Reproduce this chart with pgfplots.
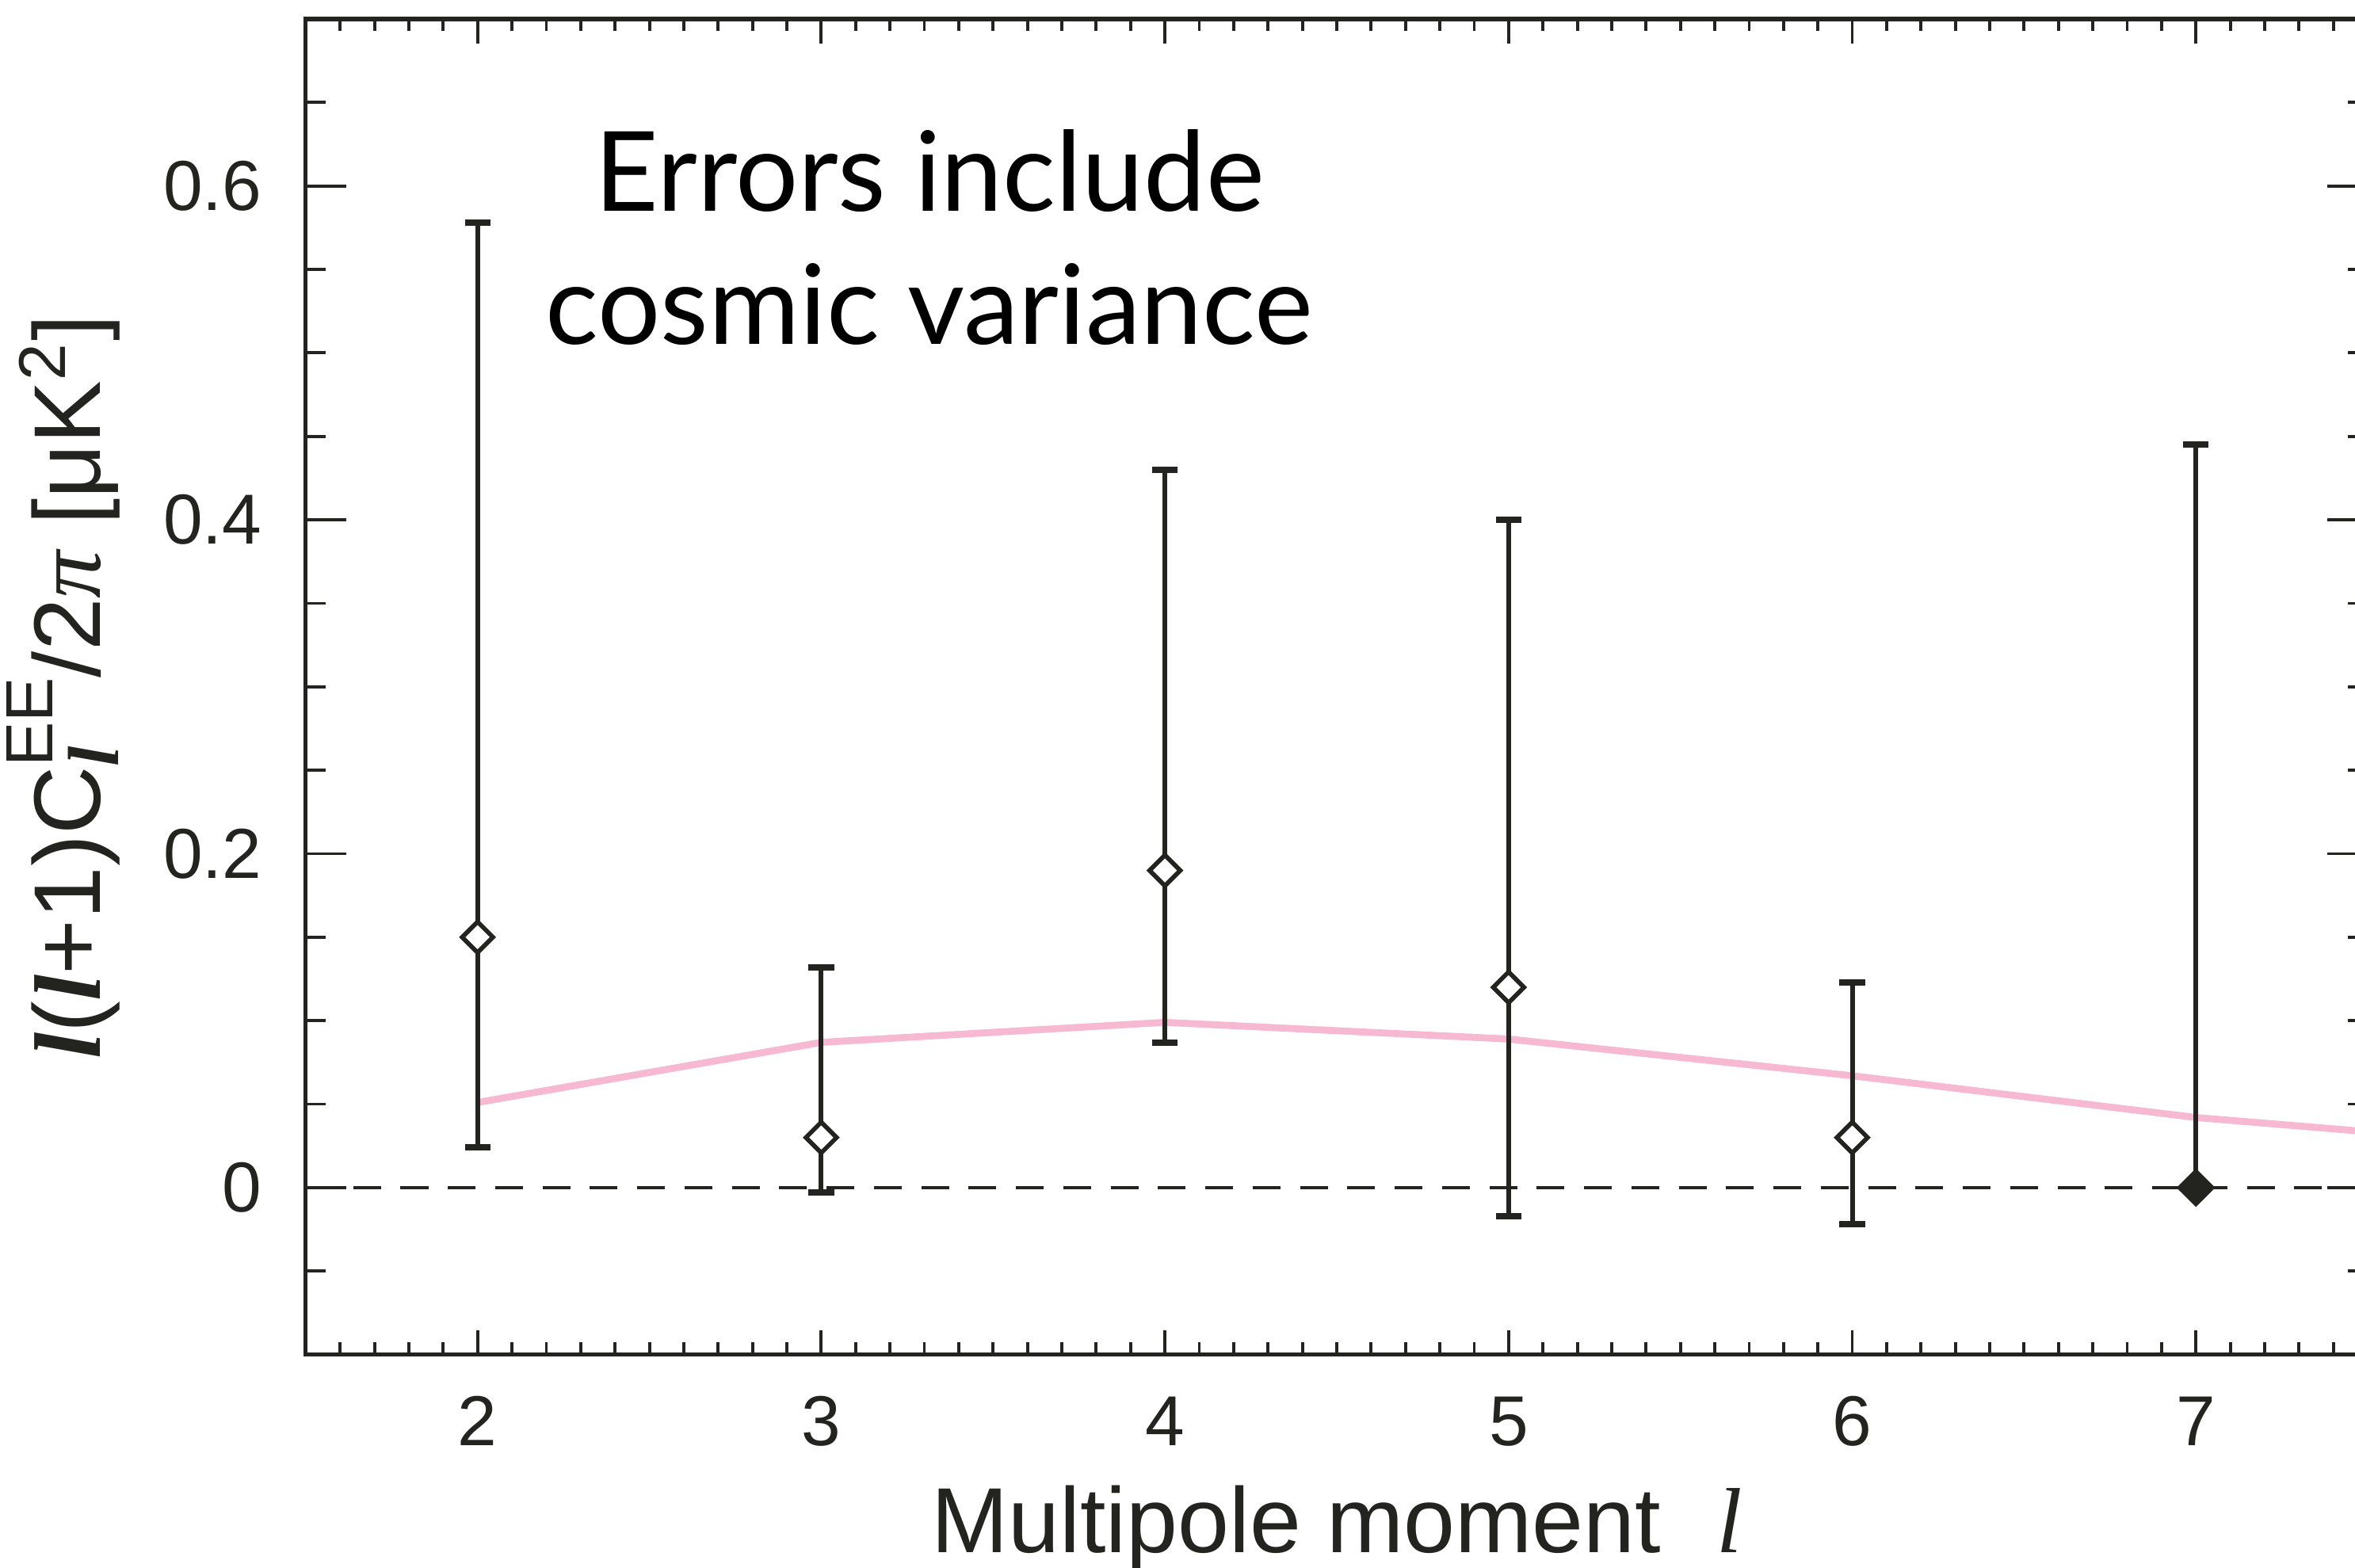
\documentclass[border=0pt]{standalone}
\usepackage{fontspec}
\setmainfont{Liberation Sans}
\newfontfamily\seriffont{Liberation Serif}
\newfontfamily\latofont{Lato}
\usepackage{pgfplots}
\pgfplotsset{compat=1.18}
\usepackage{pgfplotstable}
\definecolor{ink}{RGB}{35,35,32}
\definecolor{pinkline}{RGB}{247,184,210}

\pgfplotstableread{
x y ep em
2 0.150 0.428 0.126
3 0.030 0.102 0.033
4 0.190 0.240 0.103
5 0.120 0.280 0.137
6 0.030 0.093 0.052
}\datapts
\pgfplotstableread{
x y ep em
7 0.000 0.445 0.000
}\datafilled

\begin{document}
\begin{tikzpicture}
\pgfplotsset{
  common/.style={
    x=2.1685cm, y=10.535cm,
    xmin=1.5, xmax=7.5, ymin=-0.1, ymax=0.7,
    /pgf/number format/assume math mode=true,
    tick align=inside,
    every tick/.style={ink, line width=0.55pt},
    axis line style={ink, line width=0.75pt},
    ticklabel style={font=\fontsize{12.7}{15}\selectfont, text=ink},
  }
}
\begin{axis}[common,
  xtick=\empty,
  ytick={0,0.2,0.4,0.6},
  minor ytick={-0.1,-0.05,...,0.7},
  major tick length=7.26pt, minor tick length=3.6pt,
  yticklabel style={anchor=east, inner sep=0pt, xshift=-7.7pt},
  xlabel={Multipole moment\hspace{0.6em}{\seriffont\itshape l}},
  xlabel style={at={(axis description cs:0.5,-0.1485)}, anchor=base, inner sep=0pt,
                font=\fontsize{16.6}{20}\selectfont, text=ink},
  ylabel={{\seriffont\bfseries\itshape l}({\seriffont\bfseries\itshape l}+1)C\rlap{\raisebox{-0.35ex}{\fontsize{13}{13}\selectfont\seriffont\bfseries\itshape l}}\raisebox{0.95ex}{\fontsize{12}{12}\selectfont EE}/2{\seriffont\itshape π} [μK\textsuperscript{2}]},
  ylabel style={at={(axis description cs:-0.0995,0.5)}, anchor=base, inner sep=0pt,
                font=\fontsize{17}{20}\selectfont, text=ink},
]
\coordinate (bbSW) at (axis cs:0.6103,-0.2278);
\coordinate (bbNE) at (axis cs:7.463,0.7114);
% theory curve
\addplot[pinkline, line width=1.25pt] coordinates {
  (2,0.051) (3,0.087) (4,0.099) (5,0.089) (6,0.067) (7,0.042) (8,0.025)
};
% zero line
\addplot[ink, line width=0.55pt, dash pattern=on 5pt off 3.5pt] coordinates {(1.5,0) (7.5,0)};
% data with error bars (open diamonds)
\addplot[only marks, mark=square*, mark size=1.95pt,
  mark options={draw=ink, fill=white, line width=0.8pt, rotate=45},
  error bars/.cd, y dir=both, y explicit, error mark=|,
  error bar style={ink, line width=0.85pt},
  error mark options={ink, line width=1.15pt, mark size=2.3pt}]
  table[x=x, y=y, y error plus=ep, y error minus=em] {\datapts};
% l=7 (filled diamond, upper error only)
\addplot[only marks, mark=square*, mark size=2.05pt,
  mark options={draw=ink, fill=ink, line width=0.8pt, rotate=45},
  error bars/.cd, y dir=plus, y explicit, error mark=|,
  error bar style={ink, line width=0.85pt},
  error mark options={ink, line width=1.15pt, mark size=2.3pt}]
  table[x=x, y=y, y error plus=ep, y error minus=em] {\datafilled};
% annotation
\node[anchor=base, font=\latofont\fontsize{19.9}{23}\selectfont, text=black, inner sep=0pt]
  at (axis cs:3.315,0.585) {Errors include};
\node[anchor=base, font=\latofont\fontsize{19.9}{23}\selectfont, text=black, inner sep=0pt]
  at (axis cs:3.315,0.505) {cosmic variance};
\end{axis}
\begin{axis}[common,
  ytick=\empty,
  xtick={2,3,4,5,6,7},
  minor xtick={1.6,1.7,1.8,1.9,2.1,2.2,2.3,2.4,2.5,2.6,2.7,2.8,2.9,3.1,3.2,3.3,3.4,3.5,3.6,3.7,3.8,3.9,4.1,4.2,4.3,4.4,4.5,4.6,4.7,4.8,4.9,5.1,5.2,5.3,5.4,5.5,5.6,5.7,5.8,5.9,6.1,6.2,6.3,6.4,6.5,6.6,6.7,6.8,6.9,7.1,7.2,7.3,7.4},
  major tick length=4.4pt, minor tick length=2.2pt,
  xticklabel style={anchor=base, inner sep=0pt, yshift=-16.4pt},
  axis line style={draw=none},
]
\end{axis}
\pgfresetboundingbox
\path[use as bounding box] (bbSW) rectangle (bbNE);
\end{tikzpicture}
\end{document}
